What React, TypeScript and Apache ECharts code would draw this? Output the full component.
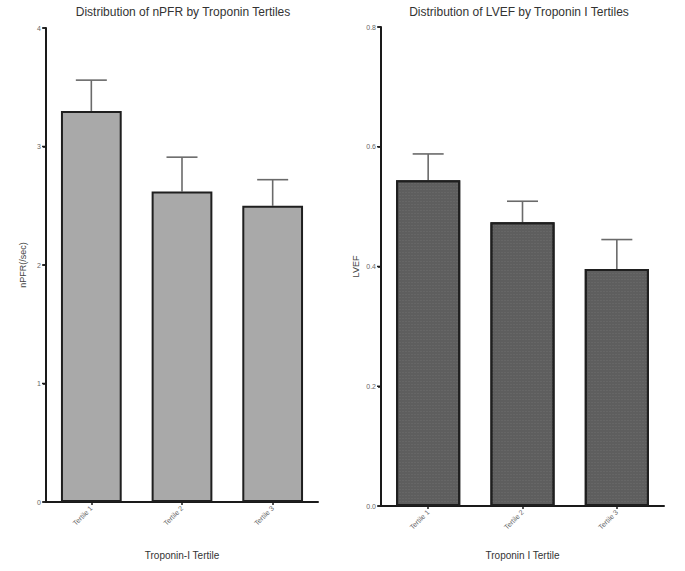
import React, { useEffect, useRef } from "react";
import * as echarts from "echarts";

const categories = ["Tertile 1", "Tertile 2", "Tertile 3"];
const npfrMeans = [3.3, 2.62, 2.5];
const npfrErrors = [0.26, 0.29, 0.22];
const lvefMeans = [0.544, 0.474, 0.396];
const lvefErrors = [0.044, 0.035, 0.049];
const npfrTicks = [0, 1, 2, 3, 4];
const lvefTicks = [0, 0.2, 0.4, 0.6, 0.8];

const FONT = "Liberation Sans, Arial, sans-serif";
const AXIS_COLOR = "#1a1a1a";

function errorSeries(gridIdx: number, means: number[], errs: number[]) {
  return {
    type: "custom",
    xAxisIndex: gridIdx,
    yAxisIndex: gridIdx,
    z: 1,
    data: means.map((m, i) => [i, m, m + errs[i]]),
    renderItem: (params: any, api: any) => {
      const x = api.value(0);
      const p0 = api.coord([x, api.value(1)]);
      const p1 = api.coord([x, api.value(2)]);
      const half = 15.5;
      const style = { stroke: "#6a6a6a", lineWidth: 1.6 };
      return {
        type: "group",
        children: [
          { type: "line", shape: { x1: p0[0], y1: p0[1], x2: p1[0], y2: p1[1] }, style },
          { type: "line", shape: { x1: p1[0] - half, y1: p1[1], x2: p1[0] + half, y2: p1[1] }, style },
        ],
      };
    },
  };
}

// draws the value-axis ticks through the library's scale
function yAxisTickSeries(gridIdx: number, ticks: number[]) {
  return {
    type: "custom",
    xAxisIndex: gridIdx,
    yAxisIndex: gridIdx,
    z: 5,
    clip: false,
    silent: true,
    data: ticks.map((t) => [0, t]),
    renderItem: (params: any, api: any) => {
      const x0 = params.coordSys.x;
      const y = api.coord([0, api.value(1)])[1];
      return {
        type: "rect",
        shape: { x: x0 - 4, y: y - 0.75, width: 4, height: 1.5 },
        style: { fill: AXIS_COLOR },
      };
    },
  };
}

const GRIDS = [
  { left: 46, top: 28, width: 272, height: 474 },
  { left: 381, top: 27, width: 283, height: 479 },
];

const mkAxisLine = () => ({ show: true, lineStyle: { color: AXIS_COLOR, width: 2 } });
const mkAxisTick = () => ({ show: true, length: 3, lineStyle: { color: AXIS_COLOR, width: 1.5 } });
const mkLabel = () => ({ fontFamily: FONT, fontSize: 7, color: "#666", margin: 5 });

export default function App() {
  const ref = useRef<HTMLDivElement>(null);
  useEffect(() => {
    if (!ref.current) return;
    const chart = echarts.init(ref.current, null, { renderer: "svg" });
    const xAxisBase = (name: string, gridIndex: number, gap: number) => ({
      type: "category",
      gridIndex,
      data: categories,
      name,
      nameLocation: "middle",
      nameGap: gap,
      nameTextStyle: { fontFamily: FONT, fontSize: 10, color: "#333" },
      axisLine: mkAxisLine(),
      axisTick: { ...mkAxisTick(), alignWithLabel: true },
      axisLabel: { ...mkLabel(), rotate: 45, margin: 5 },
      splitLine: { show: false },
    });
    const yAxisBase = (gridIndex: number, ticks: number[], name: string, gap: number, fmt?: (v: number) => string) => ({
      type: "value",
      gridIndex,
      position: "left",
      min: ticks[0],
      max: ticks[ticks.length - 1],
      interval: ticks[1] - ticks[0],
      name,
      nameLocation: "middle",
      nameRotate: 90,
      nameGap: gap,
      nameTextStyle: { fontFamily: FONT, fontSize: 9, color: "#444" },
      axisLine: mkAxisLine(),
      axisTick: mkAxisTick(),
      axisLabel: fmt ? { ...mkLabel(), formatter: fmt } : mkLabel(),
      splitLine: { show: false },
    });
    chart.setOption({
      animation: false,
      backgroundColor: "#fff",
      title: [
        {
          text: "Distribution of nPFR by Troponin Tertiles",
          left: 178,
          top: 1,
          textAlign: "center",
          textStyle: { fontFamily: FONT, fontSize: 12, fontWeight: "normal", color: "#333" },
        },
        {
          text: "Distribution of LVEF by Troponin I Tertiles",
          left: 514,
          top: 1,
          textAlign: "center",
          textStyle: { fontFamily: FONT, fontSize: 12, fontWeight: "normal", color: "#333" },
        },
      ],
      grid: GRIDS,
      graphic: GRIDS.map((g) => ({
        type: "rect",
        z: 100,
        silent: true,
        shape: { x: g.left - 1, y: g.top, width: 2, height: g.height + 1 },
        style: { fill: AXIS_COLOR },
      })),
      xAxis: [xAxisBase("Troponin-I Tertile", 0, 48), xAxisBase("Troponin I Tertile", 1, 44)],
      yAxis: [
        yAxisBase(0, npfrTicks, "nPFR(/sec)", 19),
        yAxisBase(1, lvefTicks, "LVEF", 21, (v: number) => v.toFixed(1)),
      ],
      series: [
        {
          type: "bar",
          xAxisIndex: 0,
          yAxisIndex: 0,
          data: npfrMeans,
          barWidth: "67%",
          itemStyle: { color: "#a9a9a9", borderColor: "#1f1f1f", borderWidth: 2 },
        },
        errorSeries(0, npfrMeans, npfrErrors),
        yAxisTickSeries(0, npfrTicks),
        {
          type: "bar",
          xAxisIndex: 1,
          yAxisIndex: 1,
          data: lvefMeans,
          barWidth: "68%",
          itemStyle: {
            color: "#5e5e5e",
            borderColor: "#1f1f1f",
            borderWidth: 2,
            decal: {
              symbol: "rect",
              symbolSize: 0.6,
              color: "rgba(150,150,150,0.45)",
              dashArrayX: [2, 1],
              dashArrayY: [1, 2],
              rotation: 0,
            },
          },
        },
        errorSeries(1, lvefMeans, lvefErrors),
        yAxisTickSeries(1, lvefTicks),
      ],
    });
    return () => chart.dispose();
  }, []);
  return (
    <div
      ref={ref}
      style={{ position: "absolute", left: 0, top: 0, width: 685, height: 571 }}
    />
  );
}
